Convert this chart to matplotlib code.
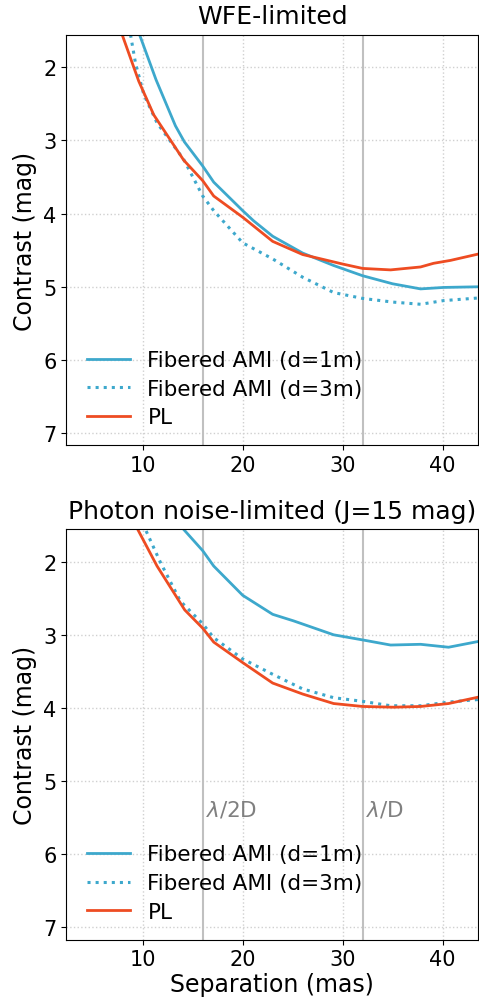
import numpy as np
import matplotlib
matplotlib.use('Agg')
import matplotlib.pyplot as plt

# WFE-limited
wfe_x_d1 = [9.0, 9.67, 11.33, 13.27, 14.17, 16.0, 17.1, 20.0, 21.1, 23.0, 26.0, 29.1, 32.0, 35.0, 37.8, 40.1, 44.0]
wfe_y_d1 = [1.30, 1.55, 2.17, 2.80, 3.02, 3.35, 3.57, 3.96, 4.10, 4.31, 4.54, 4.71, 4.85, 4.96, 5.03, 5.01, 5.00]
wfe_x_d3 = [8.5, 8.77, 9.27, 10.1, 11.43, 14.1, 16.0, 17.1, 20.0, 23.0, 26.0, 29.1, 32.0, 35.0, 37.8, 40.1, 44.0]
wfe_y_d3 = [1.45, 1.55, 1.94, 2.37, 2.76, 3.26, 3.76, 3.96, 4.40, 4.62, 4.87, 5.08, 5.16, 5.21, 5.24, 5.19, 5.15]
wfe_x_pl = [7.5, 7.93, 9.6, 11.1, 14.1, 16.0, 17.1, 20.0, 23.0, 26.0, 30.0, 32.0, 34.8, 37.8, 39.1, 40.8, 44.0]
wfe_y_pl = [1.39, 1.55, 2.19, 2.65, 3.27, 3.55, 3.76, 4.05, 4.38, 4.56, 4.69, 4.75, 4.77, 4.73, 4.68, 4.64, 4.54]

# Photon noise-limited
ph_x_d1 = [13.5, 14.1, 16.0, 17.1, 20.0, 23.0, 25.1, 29.1, 32.0, 34.8, 37.8, 40.6, 44.0]
ph_y_d1 = [1.47, 1.56, 1.85, 2.06, 2.46, 2.72, 2.81, 3.00, 3.07, 3.14, 3.13, 3.17, 3.08]
ph_x_d3 = [10.0, 10.27, 11.77, 13.77, 16.0, 17.1, 20.0, 23.0, 26.0, 29.1, 32.0, 34.8, 37.8, 40.6, 44.0]
ph_y_d3 = [1.48, 1.56, 2.01, 2.54, 2.85, 3.04, 3.33, 3.54, 3.74, 3.86, 3.91, 3.97, 3.97, 3.92, 3.88]
ph_x_pl = [9.0, 9.5, 11.43, 14.2, 16.0, 17.1, 20.0, 23.0, 26.0, 29.1, 32.0, 35.1, 37.8, 40.6, 44.0]
ph_y_pl = [1.43, 1.56, 2.06, 2.66, 2.91, 3.10, 3.38, 3.66, 3.81, 3.94, 3.98, 3.99, 3.98, 3.94, 3.84]

lam_2D = 16
lam_D = 32

c_ami = '#3DA8CC'
c_pl = '#EE4C22'
fs = 15.5

plt.rcParams['font.size'] = fs
plt.rcParams['xtick.labelsize'] = 15
plt.rcParams['ytick.labelsize'] = 15

fig, axs = plt.subplots(2, 1, figsize=(4.79, 10.04), dpi=100)
fig.subplots_adjust(left=0.138, right=0.998, top=0.964, bottom=0.063, hspace=0.205)

panels = [
    ('WFE-limited', wfe_x_d1, wfe_y_d1, wfe_x_d3, wfe_y_d3, wfe_x_pl, wfe_y_pl),
    ('Photon noise-limited (J=15 mag)', ph_x_d1, ph_y_d1, ph_x_d3, ph_y_d3, ph_x_pl, ph_y_pl),
]

for i, (title, x1, y1, x3, y3, xp, yp) in enumerate(panels):
    ax = axs[i]
    ax.axvline(lam_2D, color='#c0c0c0', lw=1.5, zorder=1)
    ax.axvline(lam_D, color='#c0c0c0', lw=1.5, zorder=1)
    ax.plot(x1, y1, color=c_ami, lw=2, label='Fibered AMI (d=1m)')
    ax.plot(x3, y3, color=c_ami, lw=2.2, ls=':', label='Fibered AMI (d=3m)')
    ax.plot(xp, yp, color=c_pl, lw=2, label='PL')
    ax.set_xlim(2.33, 43.55)
    ax.set_ylim(7.17, 1.56)
    ax.set_xticks([10, 20, 30, 40])
    ax.set_yticks([2, 3, 4, 5, 6, 7])
    ax.grid(True, ls=':', color='#d0d0d0', lw=1)
    ax.set_axisbelow(True)
    ax.set_title(title, fontsize=18, pad=8.5)
    ax.set_ylabel('Contrast (mag)', fontsize=17)
    ax.legend(loc='lower left', frameon=False, fontsize=fs, handlelength=2.0,
              borderaxespad=0.3, labelspacing=0.4,
              bbox_to_anchor=(6 / 412, 3 / 411))
    if i == 1:
        ax.text(lam_2D + 0.3, 5.38, r'$\lambda$/2D', color='gray', va='center', ha='left')
        ax.text(lam_D + 0.3, 5.38, r'$\lambda$/D', color='gray', va='center', ha='left')
        ax.set_xlabel('Separation (mas)', fontsize=17, labelpad=2)

fig.savefig('out.png', dpi=100)
